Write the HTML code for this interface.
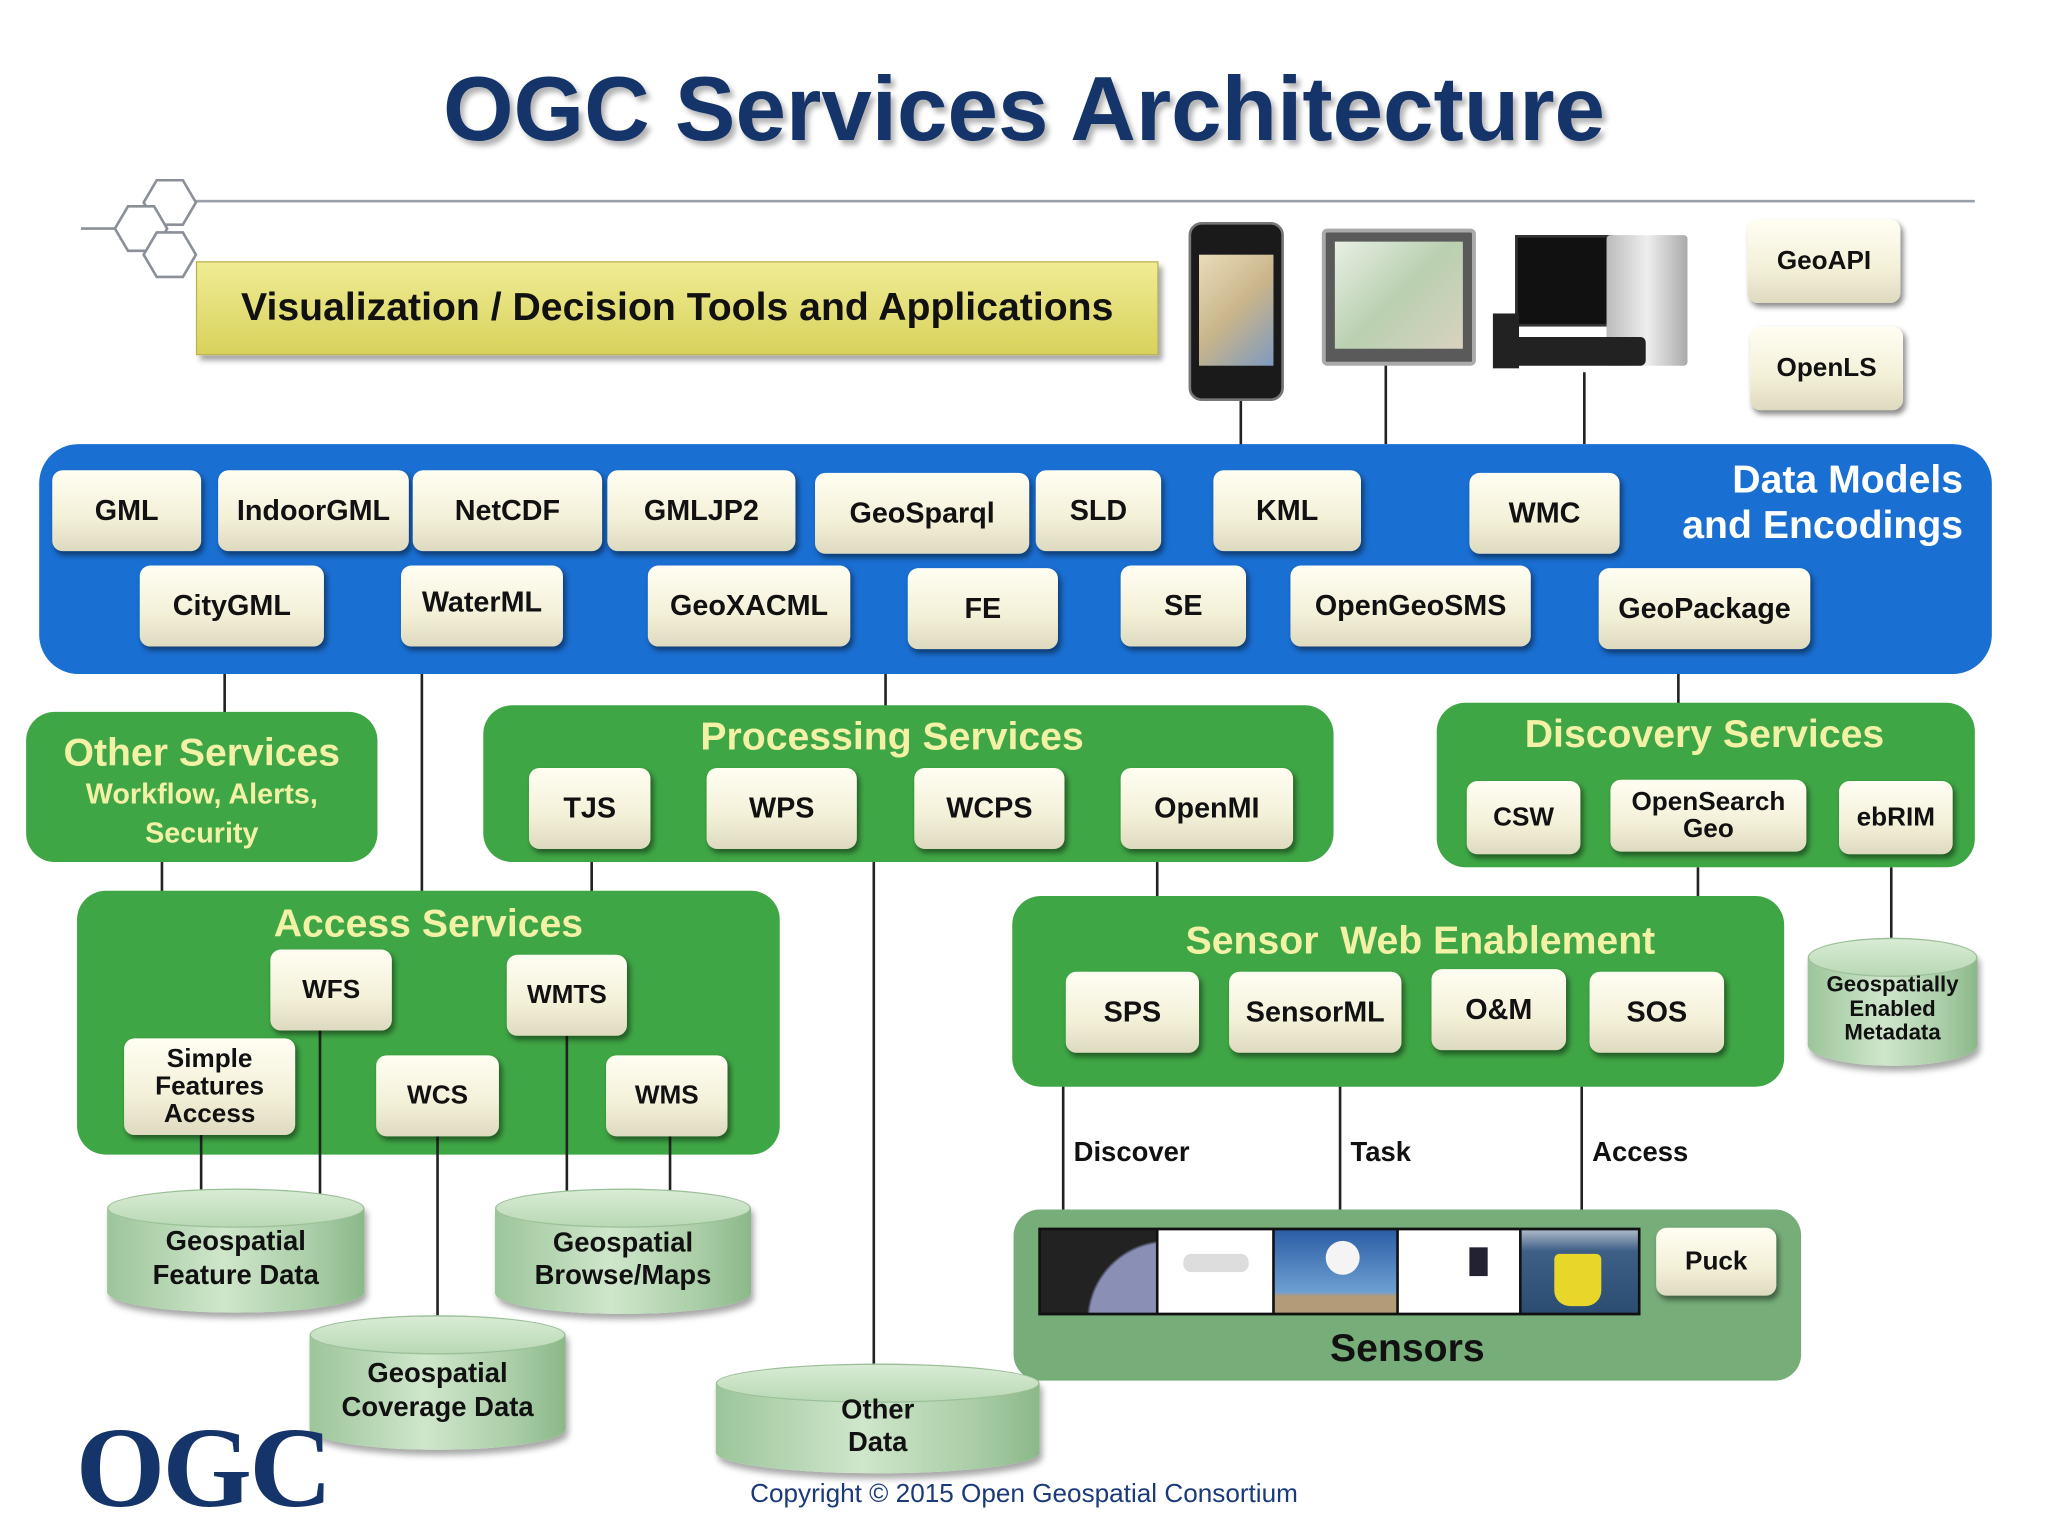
<!DOCTYPE html>
<html><head><meta charset="utf-8"><style>
html,body{margin:0;padding:0;background:#fff;width:2048px;height:1536px;overflow:hidden}
#w{position:absolute;left:0;top:0;width:1568px;height:1176px;transform:scale(1.306122);transform-origin:0 0;font-family:"Liberation Sans",sans-serif}
.a{position:absolute;box-sizing:border-box}
.b{position:absolute;box-sizing:border-box;background:linear-gradient(#fffef2,#f3f0d8 60%,#dedac0);border-radius:8px;box-shadow:2px 3px 4px rgba(0,0,0,.45);display:flex;align-items:center;justify-content:center;text-align:center;font-weight:bold;font-size:22px;color:#111;line-height:1.05}
.g{position:absolute;box-sizing:border-box;background:#3fa645;border-radius:22px}
.t{position:absolute;color:#f3f1a6;font-weight:bold;text-align:center;white-space:nowrap}
.l{position:absolute;background:#222;width:2px}
.cy{position:absolute;box-sizing:border-box;background:linear-gradient(90deg,#9cc59a,#cfe6cb 45%,#a9cda6 80%,#8bb889);border-radius:50%/16px;box-shadow:2px 4px 5px rgba(0,0,0,.35);display:flex;align-items:center;justify-content:center;text-align:center;font-weight:bold;font-size:21px;color:#111;line-height:1.2;padding-top:12px}
.cy::before{content:"";position:absolute;left:0;right:0;top:0;height:30px;border-radius:50%;background:linear-gradient(#d9ecd5,#b9d8b5);border:1px solid #9bbf98;box-sizing:border-box}
.cy span{position:relative}
</style></head><body><div id="w">
<div class="a" style="left:0;top:43px;width:1568px;text-align:center;font-size:69.5px;font-weight:bold;color:#15356a;text-shadow:3px 4px 4px rgba(0,0,0,.3)">OGC Services Architecture</div>
<div class="a" style="left:140px;top:153px;width:1372px;height:2px;background:#9aa0aa"></div>
<svg class="a" style="left:60px;top:130px" width="95" height="90" viewBox="0 0 95 90"><g fill="#fff" stroke="#8a8f98" stroke-width="2">
<polygon points="50,25 60,8 80,8 90,25 80,42 60,42"/><polygon points="28,45 38,28 58,28 68,45 58,62 38,62"/><polygon points="50,65 60,48 80,48 90,65 80,82 60,82"/></g><line x1="2" y1="45" x2="28" y2="45" stroke="#8a8f98" stroke-width="2"/></svg>
<div class="a" style="left:150px;top:200px;width:737px;height:72px;background:linear-gradient(#f0ec94,#d8d25c);border:1px solid #b9b34a;box-shadow:3px 4px 4px rgba(0,0,0,.35);display:flex;align-items:center;justify-content:center;font-weight:bold;font-size:30px;color:#111">Visualization / Decision Tools and Applications</div>
<!-- devices -->
<div class="a" style="left:910px;top:170px;width:73px;height:137px;background:#1a1a1a;border-radius:10px;border:2px solid #777"></div>
<div class="a" style="left:918px;top:195px;width:57px;height:85px;background:linear-gradient(135deg,#e9dcb8,#c9b58a 50%,#7e9ac0)"></div>
<div class="a" style="left:1012px;top:175px;width:118px;height:105px;background:#5a5a5a;border:3px solid #aaa;border-radius:4px"></div>
<div class="a" style="left:1022px;top:185px;width:98px;height:82px;background:linear-gradient(135deg,#e8efe4,#b9d0b0 50%,#d9d2c0)"></div>
<div class="a" style="left:1160px;top:180px;width:75px;height:70px;background:#111;border:2px solid #333"></div>
<div class="a" style="left:1230px;top:180px;width:62px;height:100px;background:linear-gradient(90deg,#bbb,#eee,#aaa);border-radius:3px"></div>
<div class="a" style="left:1150px;top:258px;width:110px;height:22px;background:#222;border-radius:4px"></div>
<div class="a" style="left:1143px;top:240px;width:20px;height:42px;background:#222"></div>
<div class="b" style="left:1338px;top:168px;width:117px;height:64px;font-size:20px">GeoAPI</div>
<div class="b" style="left:1340px;top:250px;width:117px;height:64px;font-size:20px">OpenLS</div>
<div class="l" style="left:949px;top:307px;height:34px"></div>
<div class="l" style="left:1060px;top:280px;height:60px"></div>
<div class="l" style="left:1212px;top:285px;height:55px"></div>
<!-- blue -->
<div class="a" style="left:30px;top:340px;width:1495px;height:176px;background:#1a6fd2;border-radius:30px"></div>
<div class="a" style="left:1250px;top:350px;width:253px;text-align:right;color:#fff;font-weight:bold;font-size:30px;line-height:35px">Data Models<br>and Encodings</div>
<div class="b" style="left:40px;top:360px;width:114px;height:62px">GML</div>
<div class="b" style="left:167px;top:360px;width:146px;height:62px">IndoorGML</div>
<div class="b" style="left:316px;top:360px;width:145px;height:62px">NetCDF</div>
<div class="b" style="left:465px;top:360px;width:144px;height:62px">GMLJP2</div>
<div class="b" style="left:624px;top:362px;width:164px;height:62px">GeoSparql</div>
<div class="b" style="left:793px;top:360px;width:96px;height:62px">SLD</div>
<div class="b" style="left:929px;top:360px;width:113px;height:62px">KML</div>
<div class="b" style="left:1125px;top:362px;width:115px;height:62px">WMC</div>
<div class="b" style="left:107px;top:433px;width:141px;height:62px">CityGML</div>
<div class="b" style="left:307px;top:433px;width:124px;height:62px;align-items:flex-start;padding-top:16px">WaterML</div>
<div class="b" style="left:496px;top:433px;width:155px;height:62px">GeoXACML</div>
<div class="b" style="left:695px;top:435px;width:115px;height:62px">FE</div>
<div class="b" style="left:858px;top:433px;width:96px;height:62px">SE</div>
<div class="b" style="left:988px;top:433px;width:184px;height:62px">OpenGeoSMS</div>
<div class="b" style="left:1224px;top:435px;width:162px;height:62px">GeoPackage</div>
<!-- lines -->
<div class="l" style="left:171px;top:516px;height:30px"></div>
<div class="l" style="left:322px;top:516px;height:168px"></div>
<div class="l" style="left:677px;top:516px;height:25px"></div>
<div class="l" style="left:1284px;top:516px;height:23px"></div>
<div class="l" style="left:123px;top:660px;height:27px"></div>
<div class="l" style="left:452px;top:660px;height:23px"></div>
<div class="l" style="left:668px;top:660px;height:385px"></div>
<div class="l" style="left:885px;top:660px;height:27px"></div>
<div class="l" style="left:1299px;top:664px;height:23px"></div>
<div class="l" style="left:1447px;top:664px;height:56px"></div>
<!-- other -->
<div class="g" style="left:20px;top:545px;width:269px;height:115px"></div>
<div class="t" style="left:20px;top:560px;width:269px;font-size:30px">Other Services</div>
<div class="t" style="left:20px;top:593px;width:269px;font-size:22px;line-height:30px">Workflow, Alerts,<br>Security</div>
<!-- processing -->
<div class="g" style="left:370px;top:540px;width:651px;height:120px"></div>
<div class="t" style="left:370px;top:548px;width:626px;font-size:30px">Processing Services</div>
<div class="b" style="left:405px;top:588px;width:93px;height:62px">TJS</div>
<div class="b" style="left:541px;top:588px;width:115px;height:62px">WPS</div>
<div class="b" style="left:700px;top:588px;width:115px;height:62px">WCPS</div>
<div class="b" style="left:858px;top:588px;width:132px;height:62px">OpenMI</div>
<!-- discovery -->
<div class="g" style="left:1100px;top:538px;width:412px;height:126px"></div>
<div class="t" style="left:1100px;top:546px;width:410px;font-size:30px">Discovery Services</div>
<div class="b" style="left:1123px;top:598px;width:87px;height:56px;font-size:20px">CSW</div>
<div class="b" style="left:1233px;top:597px;width:150px;height:55px;font-size:20px">OpenSearch<br>Geo</div>
<div class="b" style="left:1408px;top:598px;width:87px;height:56px;font-size:20px">ebRIM</div>
<!-- access -->
<div class="g" style="left:59px;top:682px;width:538px;height:202px"></div>
<div class="t" style="left:59px;top:691px;width:538px;font-size:30px">Access Services</div>
<div class="l" style="left:153px;top:869px;height:43px"></div>
<div class="l" style="left:244px;top:789px;height:133px"></div>
<div class="l" style="left:334px;top:870px;height:140px"></div>
<div class="l" style="left:433px;top:793px;height:119px"></div>
<div class="l" style="left:512px;top:870px;height:42px"></div>
<div class="b" style="left:207px;top:727px;width:93px;height:62px;font-size:20px">WFS</div>
<div class="b" style="left:388px;top:731px;width:92px;height:62px;font-size:20px">WMTS</div>
<div class="b" style="left:95px;top:795px;width:131px;height:74px;font-size:20px">Simple<br>Features<br>Access</div>
<div class="b" style="left:288px;top:808px;width:94px;height:62px;font-size:20px">WCS</div>
<div class="b" style="left:464px;top:808px;width:93px;height:62px;font-size:20px">WMS</div>
<!-- SWE -->
<div class="g" style="left:775px;top:686px;width:591px;height:146px"></div>
<div class="t" style="left:775px;top:704px;width:625px;font-size:30px">Sensor&nbsp; Web Enablement</div>
<div class="b" style="left:816px;top:744px;width:102px;height:62px">SPS</div>
<div class="b" style="left:941px;top:744px;width:132px;height:62px">SensorML</div>
<div class="b" style="left:1096px;top:742px;width:103px;height:62px">O&amp;M</div>
<div class="b" style="left:1217px;top:744px;width:103px;height:62px">SOS</div>
<div class="cy" style="left:1384px;top:718px;width:130px;height:98px;font-size:17px;line-height:1.1"><span>Geospatially<br>Enabled<br>Metadata</span></div>
<!-- sensor lines -->
<div class="l" style="left:813px;top:832px;height:96px"></div>
<div class="l" style="left:1025px;top:832px;height:96px"></div>
<div class="l" style="left:1210px;top:832px;height:96px"></div>
<div class="a" style="left:822px;top:871px;font-weight:bold;font-size:21px;color:#111">Discover</div>
<div class="a" style="left:1034px;top:871px;font-weight:bold;font-size:21px;color:#111">Task</div>
<div class="a" style="left:1219px;top:871px;font-weight:bold;font-size:21px;color:#111">Access</div>
<!-- sensors -->
<div class="a" style="left:776px;top:926px;width:603px;height:131px;background:#76ad79;border-radius:20px"></div>
<div class="a" style="left:795px;top:940px;width:461px;height:67px;background:#111;border:2px solid #111"></div>
<div class="a" style="left:797px;top:942px;width:88px;height:63px;background:radial-gradient(circle at 110% 110%,#8a8fb6 50%,#222 52%)"></div>
<div class="a" style="left:887px;top:942px;width:87px;height:63px;background:#fff"></div>
<div class="a" style="left:906px;top:960px;width:50px;height:14px;background:#ddd;border-radius:6px"></div>
<div class="a" style="left:976px;top:942px;width:93px;height:63px;background:linear-gradient(#2b5ea6,#6e9fd1 75%,#b39a78 80%)"></div>
<div class="a" style="left:1015px;top:950px;width:26px;height:26px;background:#f4f4f4;border-radius:50%"></div>
<div class="a" style="left:1071px;top:942px;width:92px;height:63px;background:#fff"></div>
<div class="a" style="left:1125px;top:955px;width:14px;height:22px;background:#223"></div>
<div class="a" style="left:1165px;top:942px;width:89px;height:63px;background:linear-gradient(#aab8c8,#3e5f86 25%,#2c4d72)"></div>
<div class="a" style="left:1190px;top:960px;width:36px;height:40px;background:#e8d62a;border-radius:4px 4px 12px 12px"></div>
<div class="b" style="left:1268px;top:940px;width:92px;height:52px;font-size:20px">Puck</div>
<div class="a" style="left:776px;top:1016px;width:603px;text-align:center;font-weight:bold;font-size:30px;color:#111">Sensors</div>
<!-- cylinders -->
<div class="cy" style="left:82px;top:910px;width:197px;height:95px"><span>Geospatial<br>Feature Data</span></div>
<div class="cy" style="left:379px;top:910px;width:196px;height:96px"><span>Geospatial<br>Browse/Maps</span></div>
<div class="cy" style="left:237px;top:1007px;width:196px;height:103px"><span>Geospatial<br>Coverage Data</span></div>
<div class="cy" style="left:548px;top:1044px;width:248px;height:84px"><span>Other<br>Data</span></div>
<div class="a" style="left:58px;top:1074px;font-family:'Liberation Serif',serif;font-weight:bold;font-size:88px;color:#15356a;letter-spacing:-2px">OGC</div>
<div class="a" style="left:0;top:1133px;width:1568px;text-align:center;font-size:20px;color:#1b3a7a">Copyright © 2015 Open Geospatial Consortium</div>
</div></body></html>
